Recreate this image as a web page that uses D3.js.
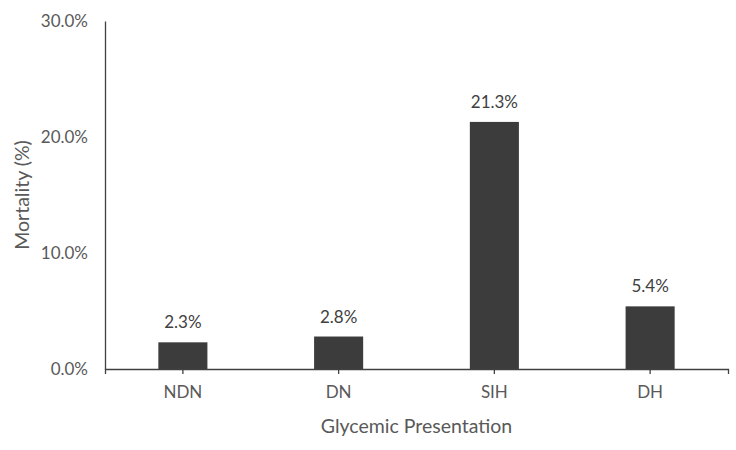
<!DOCTYPE html>
<html>
<head>
<meta charset="utf-8">
<script src="https://cdn.jsdelivr.net/npm/d3@7"></script>
<style>
  body { margin: 0; background: #fff; }
  text { font-family: Lato, "Open Sans", sans-serif; }
</style>
</head>
<body>
<svg id="chart" width="736" height="450"></svg>
<script>
const categories = ["NDN", "DN", "SIH", "DH"];
const mortality = [2.3, 2.8, 21.3, 5.4];
const yTicks = [0, 10, 20, 30];

const svg = d3.select("#chart");
const width = 736;
const height = 450;
const margin = { top: 21, right: 8, bottom: 81, left: 105 };

const x = d3
  .scaleBand()
  .domain(categories)
  .range([margin.left, width - margin.right])
  .paddingInner(0.685)
  .paddingOuter(0.3425);

const y = d3
  .scaleLinear()
  .domain([0, 30])
  .range([height - margin.bottom, margin.top]);

// y axis: line only, labels on the left
const yAxis = svg
  .append("g")
  .attr("transform", `translate(${margin.left},0)`)
  .call(
    d3
      .axisLeft(y)
      .tickValues(yTicks)
      .tickSize(0)
      .tickPadding(17)
      .tickFormat((d) => d.toFixed(1) + "%")
  );
yAxis.select(".domain").attr("stroke", "#404040").attr("stroke-width", 1.3);
yAxis
  .selectAll("text")
  .attr("fill", "#595959")
  .attr("font-size", 17);

// bars
svg
  .append("g")
  .selectAll("rect")
  .data(mortality)
  .join("rect")
  .attr("x", (d, i) => x(categories[i]))
  .attr("y", (d) => y(d))
  .attr("width", x.bandwidth())
  .attr("height", (d) => y(0) - y(d))
  .attr("fill", "#3c3c3c");

// value labels
svg
  .append("g")
  .selectAll("text")
  .data(mortality)
  .join("text")
  .attr("x", (d, i) => x(categories[i]) + x.bandwidth() / 2)
  .attr("y", (d) => y(d) - 14)
  .attr("text-anchor", "middle")
  .attr("fill", "#404040")
  .attr("font-size", 17)
  .text((d) => d.toFixed(1) + "%");

// x axis with ticks at category centres and at the right end
const xAxis = svg
  .append("g")
  .attr("transform", `translate(0,${y(0)})`)
  .call(d3.axisBottom(x).tickSize(5).tickSizeOuter(5).tickPadding(12));
xAxis.select(".domain").attr("stroke", "#404040").attr("stroke-width", 1.3);
xAxis.selectAll(".tick line").attr("stroke", "#404040").attr("stroke-width", 1.3);
xAxis
  .selectAll("text")
  .attr("fill", "#595959")
  .attr("font-size", 17);

// axis titles
svg
  .append("text")
  .attr("x", (margin.left + width - margin.right) / 2)
  .attr("y", 433)
  .attr("text-anchor", "middle")
  .attr("fill", "#595959")
  .attr("font-size", 19.5)
  .text("Glycemic Presentation");

svg
  .append("text")
  .attr("transform", `translate(29,${(margin.top + y(0)) / 2}) rotate(-90)`)
  .attr("text-anchor", "middle")
  .attr("fill", "#595959")
  .attr("font-size", 19.5)
  .text("Mortality (%)");
</script>
</body>
</html>
